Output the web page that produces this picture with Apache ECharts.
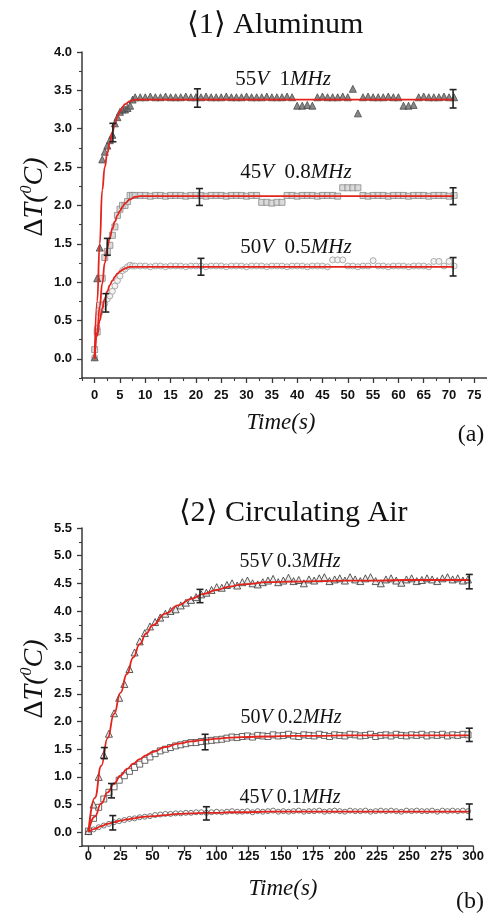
<!DOCTYPE html>
<html>
<head>
<meta charset="utf-8">
<script src="https://cdn.jsdelivr.net/npm/echarts@6/dist/echarts.min.js"></script>
<style>
  html, body { margin: 0; padding: 0; background: #fff; }
  #chart { width: 487px; height: 915px; }
</style>
</head>
<body>
<div id="chart"></div>
<script>
// ---- panel (a): Aluminum ----
const timesA = [0, 0.5, 1, 1.5, 2, 2.5, 3, 3.5, 4, 4.5, 5, 5.5, 6, 6.5, 7, 7.5, 8,
  9, 10, 11, 12, 13, 14, 15, 16, 17, 18, 19, 20, 21, 22, 23, 24, 25, 26, 27, 28, 29, 30,
  31, 32, 33, 34, 35, 36, 37, 38, 39, 40, 41, 42, 43, 44, 45, 46, 47, 48, 49, 50,
  51, 52, 53, 54, 55, 56, 57, 58, 59, 60, 61, 62, 63, 64, 65, 66, 67, 68, 69, 70, 71];
const al55V = [0.02, 1.05, 1.45, 2.6, 2.7, 2.78, 2.85, 2.92, 3.07, 3.15, 3.22, 3.25, 3.25, 3.27, 3.3, 3.38, 3.41,
  3.41, 3.41, 3.42, 3.41, 3.41, 3.42, 3.41, 3.41, 3.41, 3.42, 3.41, 3.41, 3.41, 3.42, 3.41, 3.41, 3.41, 3.42, 3.41, 3.41, 3.41, 3.42,
  3.41, 3.41, 3.41, 3.42, 3.41, 3.41, 3.41, 3.42, 3.41, 3.3, 3.3, 3.31, 3.3, 3.41, 3.42, 3.41, 3.41, 3.41, 3.42, 3.41,
  3.52, 3.2, 3.41, 3.42, 3.41, 3.41, 3.41, 3.42, 3.41, 3.41, 3.3, 3.3, 3.31, 3.41, 3.42, 3.41, 3.41, 3.41, 3.42, 3.41, 3.41];
const al45V = [0.12, 0.35, 0.7, 1.05, 1.32, 1.4, 1.48, 1.61, 1.72, 1.87, 1.95, 2.0, 2.0, 2.05, 2.13, 2.13, 2.13,
  2.13, 2.13, 2.12, 2.13, 2.13, 2.12, 2.13, 2.13, 2.13, 2.12, 2.13, 2.13, 2.13, 2.12, 2.13, 2.13, 2.13, 2.12, 2.13, 2.13, 2.13, 2.12,
  2.13, 2.13, 2.04, 2.04, 2.03, 2.04, 2.04, 2.13, 2.13, 2.12, 2.13, 2.13, 2.13, 2.12, 2.13, 2.13, 2.13, 2.12, 2.23, 2.23,
  2.23, 2.23, 2.13, 2.12, 2.13, 2.13, 2.13, 2.12, 2.13, 2.13, 2.13, 2.12, 2.13, 2.13, 2.13, 2.12, 2.13, 2.13, 2.13, 2.12, 2.13];
const al50V = [0.02, 0.4, 0.6, 0.67, 0.72, 0.78, 0.82, 0.88, 0.95, 1.02, 1.08, 1.15, 1.17, 1.2, 1.22, 1.21, 1.21,
  1.21, 1.21, 1.2, 1.21, 1.21, 1.2, 1.21, 1.21, 1.21, 1.2, 1.21, 1.21, 1.21, 1.2, 1.21, 1.21, 1.21, 1.2, 1.21, 1.21, 1.21, 1.2,
  1.21, 1.21, 1.21, 1.2, 1.21, 1.21, 1.21, 1.2, 1.21, 1.21, 1.21, 1.2, 1.21, 1.21, 1.21, 1.2, 1.29, 1.29, 1.29, 1.21,
  1.21, 1.2, 1.21, 1.21, 1.28, 1.21, 1.21, 1.2, 1.21, 1.21, 1.21, 1.2, 1.21, 1.21, 1.21, 1.2, 1.27, 1.27, 1.21, 1.27, 1.21];
const fitTimesA = [0, 0.5, 1, 1.5, 2, 2.5, 3, 3.5, 4, 4.5, 5, 5.5, 6, 7, 8, 9, 10, 15, 20, 30, 40, 50, 60, 71];
const fitAl55V = [0.02, 0.75, 1.5, 2.2, 2.5, 2.68, 2.82, 2.95, 3.07, 3.16, 3.23, 3.28, 3.32, 3.36, 3.38, 3.38, 3.38, 3.38, 3.38, 3.38, 3.38, 3.38, 3.38, 3.38];
const fitAl45V = [0.0, 0.35, 0.68, 0.98, 1.25, 1.45, 1.58, 1.7, 1.79, 1.87, 1.93, 1.98, 2.03, 2.08, 2.11, 2.12, 2.12, 2.12, 2.12, 2.12, 2.12, 2.12, 2.12, 2.12];
const fitAl50V = [0.0, 0.3, 0.5, 0.65, 0.78, 0.88, 0.96, 1.02, 1.07, 1.11, 1.14, 1.16, 1.18, 1.2, 1.2, 1.2, 1.2, 1.2, 1.2, 1.2, 1.2, 1.2, 1.2, 1.2];
// [time, value, half-height]
const errAl55V = [[3.6, 2.95, 0.12], [20.3, 3.40, 0.12], [70.8, 3.39, 0.12]];
const errAl45V = [[2.5, 1.46, 0.11], [20.7, 2.11, 0.11], [70.8, 2.12, 0.11]];
const errAl50V = [[2.2, 0.73, 0.12], [21, 1.2, 0.11], [70.8, 1.2, 0.12]];
const xTicksA = [0, 5, 10, 15, 20, 25, 30, 35, 40, 45, 50, 55, 60, 65, 70, 75];
const xMinorA = [-2.5, 2.5, 7.5, 12.5, 17.5, 22.5, 27.5, 32.5, 37.5, 42.5, 47.5, 52.5, 57.5, 62.5, 67.5, 72.5, 77.5];
const yTicksA = [0, 0.5, 1, 1.5, 2, 2.5, 3, 3.5, 4];
const yMinorA = [-0.25, 0.25, 0.75, 1.25, 1.75, 2.25, 2.75, 3.25, 3.75];

// ---- panel (b): Circulating Air ----
const timesB = [0, 4, 8, 12, 16, 20, 24, 28, 32, 36, 40, 44, 48, 52, 56, 60, 64, 68, 72, 76,
  80, 84, 88, 92, 96, 100, 104, 108, 112, 116, 120, 124, 128, 132, 136, 140, 144, 148, 152, 156,
  160, 164, 168, 172, 176, 180, 184, 188, 192, 196, 200, 204, 208, 212, 216, 220, 224, 228, 232, 236,
  240, 244, 248, 252, 256, 260, 264, 268, 272, 276, 280, 284, 288, 292, 296];
const air55V = [0.02, 0.5, 1.0, 1.4, 1.78, 2.15, 2.43, 2.68, 2.95, 3.25,
  3.45, 3.6, 3.72, 3.8, 3.88, 3.95, 4.0, 4.03, 4.1, 4.15,
  4.2, 4.25, 4.3, 4.33, 4.38, 4.43, 4.42, 4.47, 4.5, 4.46,
  4.52, 4.55, 4.5, 4.48, 4.52, 4.55, 4.58, 4.52, 4.55, 4.6,
  4.54, 4.56, 4.5, 4.57, 4.55, 4.59, 4.61, 4.54, 4.57, 4.59,
  4.55, 4.61, 4.57, 4.54, 4.59, 4.61, 4.54, 4.5, 4.57, 4.59,
  4.55, 4.51, 4.57, 4.59, 4.54, 4.56, 4.59, 4.57, 4.54, 4.59,
  4.61, 4.57, 4.59, 4.55, 4.57];
const air50V = [0.02, 0.25, 0.45, 0.6, 0.72, 0.82, 0.94, 1.02, 1.1, 1.17,
  1.23, 1.3, 1.36, 1.42, 1.47, 1.5, 1.53, 1.56, 1.58, 1.6,
  1.62, 1.62, 1.64, 1.65, 1.66, 1.67, 1.68, 1.7, 1.72, 1.71,
  1.73, 1.74, 1.72, 1.75, 1.74, 1.73, 1.76, 1.74, 1.75, 1.77,
  1.74, 1.73, 1.76, 1.75, 1.74, 1.77, 1.75, 1.73, 1.76, 1.75,
  1.74, 1.77, 1.76, 1.74, 1.75, 1.77, 1.73, 1.75, 1.76, 1.74,
  1.77, 1.75, 1.74, 1.76, 1.75, 1.77, 1.74, 1.76, 1.75, 1.77,
  1.74, 1.76, 1.75, 1.77, 1.76];
const air45V = [0.0, 0.05, 0.09, 0.12, 0.15, 0.18, 0.2, 0.22, 0.24, 0.25,
  0.27, 0.28, 0.29, 0.31, 0.32, 0.33, 0.33, 0.34, 0.34, 0.35,
  0.35, 0.36, 0.36, 0.35, 0.36, 0.37, 0.36, 0.37, 0.38, 0.37,
  0.37, 0.38, 0.36, 0.38, 0.37, 0.38, 0.39, 0.37, 0.38, 0.37,
  0.38, 0.39, 0.37, 0.38, 0.38, 0.39, 0.37, 0.38, 0.39, 0.38,
  0.37, 0.39, 0.38, 0.38, 0.39, 0.37, 0.38, 0.39, 0.38, 0.39,
  0.38, 0.37, 0.39, 0.38, 0.39, 0.38, 0.38, 0.39, 0.37, 0.39,
  0.38, 0.39, 0.38, 0.39, 0.38];
const fitTimesB = [0, 5, 10, 15, 20, 25, 30, 35, 40, 45, 50, 60, 70, 80, 90, 100, 110, 120, 140, 160, 180, 200, 225, 250, 275, 297];
const fitAir55V = [0, 0.62, 1.2, 1.7, 2.14, 2.52, 2.86, 3.16, 3.4, 3.59, 3.74, 3.95, 4.1, 4.22, 4.31, 4.38, 4.44, 4.48, 4.52, 4.53, 4.54, 4.55, 4.55, 4.56, 4.56, 4.56];
const fitAir50V = [0, 0.28, 0.52, 0.72, 0.88, 1.02, 1.14, 1.24, 1.32, 1.39, 1.45, 1.54, 1.6, 1.64, 1.67, 1.69, 1.71, 1.72, 1.73, 1.74, 1.74, 1.75, 1.75, 1.75, 1.75, 1.75];
const fitAir45V = [0, 0.06, 0.11, 0.15, 0.18, 0.21, 0.23, 0.25, 0.27, 0.28, 0.29, 0.31, 0.33, 0.34, 0.35, 0.35, 0.36, 0.36, 0.37, 0.37, 0.37, 0.37, 0.37, 0.37, 0.37, 0.37];
const errAir55V = [[12.4, 1.43, 0.1], [87, 4.27, 0.12], [297, 4.53, 0.13]];
const errAir50V = [[18, 0.75, 0.13], [91, 1.63, 0.14], [297, 1.76, 0.12]];
const errAir45V = [[19, 0.17, 0.13], [92, 0.34, 0.12], [297, 0.37, 0.14]];
const xTicksB = [0, 25, 50, 75, 100, 125, 150, 175, 200, 225, 250, 275, 300];
const xMinorB = [12.5, 37.5, 62.5, 87.5, 112.5, 137.5, 162.5, 187.5, 212.5, 237.5, 262.5, 287.5];
const yTicksB = [0, 0.5, 1, 1.5, 2, 2.5, 3, 3.5, 4, 4.5, 5, 5.5];
const yMinorB = [-0.25, 0.25, 0.75, 1.25, 1.75, 2.25, 2.75, 3.25, 3.75, 4.25, 4.75, 5.25];

const SERIF = '"Liberation Serif", "Times New Roman", serif';
const SANS = '"Liberation Sans", Arial, sans-serif';
const AXIS = '#3a3a3a';
const RED = '#e3231c';

const zip = (xs, ys) => xs.map((x, i) => [x, ys[i]]);

function mainAxis(grid, pos, min, max, ticks, fmt, margin) {
  return {
    type: 'value', gridIndex: grid, position: pos, min, max,
    axisLine: { show: true, onZero: false, lineStyle: { color: AXIS, width: 1.5 } },
    axisTick: { show: true, length: 5, customValues: ticks, lineStyle: { color: AXIS, width: 1.3 } },
    axisLabel: { customValues: ticks, formatter: fmt, margin, color: '#111', fontFamily: SANS, fontWeight: 'bold', fontSize: 13 },
    splitLine: { show: false }
  };
}
function minorAxis(grid, pos, min, max, ticks) {
  return {
    type: 'value', gridIndex: grid, position: pos, min, max,
    axisLine: { show: false, onZero: false },
    axisTick: { show: true, length: 3, customValues: ticks, lineStyle: { color: AXIS, width: 1.1 } },
    axisLabel: { show: false },
    splitLine: { show: false }
  };
}
function markers(data, xi, symbol, size, fill, edge) {
  return {
    type: 'scatter', xAxisIndex: xi, yAxisIndex: xi, data, symbol, symbolSize: size, z: 3,
    itemStyle: { color: fill, borderColor: edge, borderWidth: 1 }
  };
}
function fit(data, xi) {
  return {
    type: 'line', xAxisIndex: xi, yAxisIndex: xi, data, smooth: true, smoothMonotone: 'x',
    symbol: 'none', z: 4, lineStyle: { color: RED, width: 1.8 }
  };
}
function errorBars(data, xi) {
  return {
    type: 'custom', xAxisIndex: xi, yAxisIndex: xi, data, z: 5,
    encode: { x: 0, y: 1 },
    renderItem: (params, api) => {
      const x = api.value(0), y = api.value(1), e = api.value(2);
      const top = api.coord([x, y + e]);
      const bot = api.coord([x, y - e]);
      const s = { stroke: '#222', lineWidth: 1.6 };
      return {
        type: 'group',
        children: [
          { type: 'line', shape: { x1: top[0], y1: top[1], x2: bot[0], y2: bot[1] }, style: s },
          { type: 'line', shape: { x1: top[0] - 3.5, y1: top[1], x2: top[0] + 3.5, y2: top[1] }, style: s },
          { type: 'line', shape: { x1: bot[0] - 3.5, y1: bot[1], x2: bot[0] + 3.5, y2: bot[1] }, style: s }
        ]
      };
    }
  };
}

function note(x, y, text, size) {
  const rich = {
    r: { fontFamily: SERIF, fontSize: size, fill: '#111', color: '#111' },
    i: { fontFamily: SERIF, fontSize: size, fontStyle: 'italic', fill: '#111', color: '#111' }
  };
  return { type: 'text', x, y, z: 10, style: { text, rich, align: 'center', verticalAlign: 'middle', textAlign: 'center', textVerticalAlign: 'middle' } };
}
function plain(x, y, text, font) {
  return { type: 'text', x, y, z: 10, style: { text, font, fill: '#111', align: 'center', verticalAlign: 'middle', textAlign: 'center', textVerticalAlign: 'middle' } };
}
function yName(x, y) {
  return {
    type: 'text', x, y, rotation: Math.PI / 2, z: 10,
    style: {
      text: '{n|Δ}{i|T(}{s|0}{i|C)}',
      align: 'center', verticalAlign: 'middle', textAlign: 'center', textVerticalAlign: 'middle',
      rich: {
        n: { fontFamily: SERIF, fontSize: 28, lineHeight: 32, fill: '#111' },
        i: { fontFamily: SERIF, fontSize: 28, lineHeight: 32, fontStyle: 'italic', fill: '#111' },
        s: { fontFamily: SERIF, fontSize: 16, lineHeight: 18, fontStyle: 'italic', verticalAlign: 'top', fill: '#111' }
      }
    }
  };
}

const chart = echarts.init(document.getElementById('chart'), null, { renderer: 'canvas' });
chart.setOption({
  animation: false,
  backgroundColor: '#fff',
  grid: [
    { left: 82, top: 52, width: 405, height: 326 },
    { left: 82, top: 528, width: 394, height: 318 }
  ],
  xAxis: [
    mainAxis(0, 'bottom', -2.5, 77.5, xTicksA, v => String(v), 11),
    minorAxis(0, 'bottom', -2.5, 77.5, xMinorA),
    mainAxis(1, 'bottom', -5, 300, xTicksB, v => String(v), 4),
    minorAxis(1, 'bottom', -5, 300, xMinorB)
  ],
  yAxis: [
    mainAxis(0, 'left', -0.25, 4, yTicksA, v => v.toFixed(1), 10),
    minorAxis(0, 'left', -0.25, 4, yMinorA),
    mainAxis(1, 'left', -0.25, 5.5, yTicksB, v => v.toFixed(1), 10),
    minorAxis(1, 'left', -0.25, 5.5, yMinorB)
  ],
  series: [
    markers(zip(timesA, al50V), 0, 'circle', 6, '#f0f0f0', '#9a9a9a'),
    markers(zip(timesA, al45V), 0, 'rect', 6, '#d2d2d2', '#8a8a8a'),
    markers(zip(timesA, al55V), 0, 'triangle', 7, '#6a6a6a', '#4a4a4a'),
    fit(zip(fitTimesA, fitAl55V), 0),
    fit(zip(fitTimesA, fitAl45V), 0),
    fit(zip(fitTimesA, fitAl50V), 0),
    errorBars(errAl55V, 0),
    errorBars(errAl45V, 0),
    errorBars(errAl50V, 0),

    markers(zip(timesB, air45V), 2, 'circle', 5, '#ffffff', '#555'),
    markers(zip(timesB, air50V), 2, 'rect', 6, '#ffffff', '#444'),
    markers(zip(timesB, air55V), 2, 'triangle', 7, '#e6e6e6', '#333'),
    fit(zip(fitTimesB, fitAir55V), 2),
    fit(zip(fitTimesB, fitAir50V), 2),
    fit(zip(fitTimesB, fitAir45V), 2),
    errorBars(errAir55V, 2),
    errorBars(errAir50V, 2),
    errorBars(errAir45V, 2)
  ],
  graphic: [
    plain(275, 25, '⟨1⟩ Aluminum', '30px ' + SERIF),
    note(283, 79, '{r|55}{i|V}{r|  1}{i|MHz}', 21),
    note(296, 172, '{r|45}{i|V}{r|  0.8}{i|MHz}', 21),
    note(296, 247, '{r|50}{i|V}{r|  0.5}{i|MHz}', 21),
    yName(35, 197),
    plain(281, 423, 'Time(s)', 'italic 23px ' + SERIF),
    plain(471, 435, '(a)', '24px ' + SERIF),

    plain(293, 513, '⟨2⟩ Circulating Air', '30px ' + SERIF),
    note(290, 562, '{r|55}{i|V}{r| 0.3}{i|MHz}', 20),
    note(291, 718, '{r|50}{i|V}{r| 0.2}{i|MHz}', 20),
    note(290, 798, '{r|45}{i|V}{r| 0.1}{i|MHz}', 20),
    yName(35, 679),
    plain(283, 889, 'Time(s)', 'italic 23px ' + SERIF),
    plain(470, 902, '(b)', '24px ' + SERIF)
  ]
});
</script>
</body>
</html>
